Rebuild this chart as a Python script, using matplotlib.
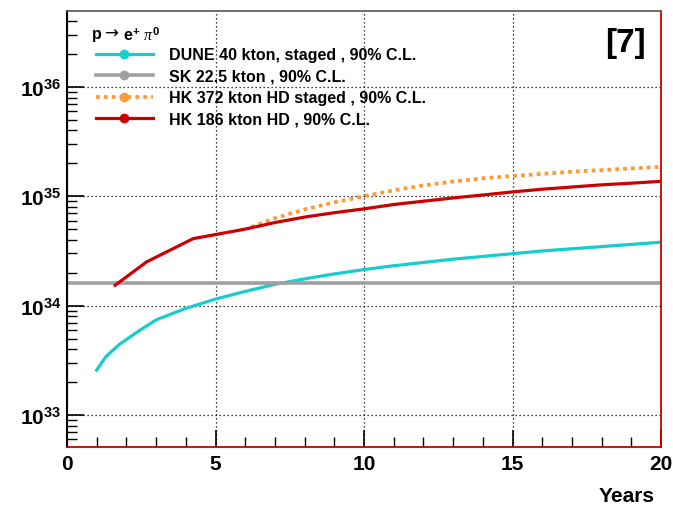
import numpy as np
import matplotlib.pyplot as plt
from matplotlib.lines import Line2D
from matplotlib.ticker import LogLocator, MultipleLocator, NullFormatter

plt.rcParams['font.family'] = ['Liberation Sans', 'DejaVu Sans']
plt.rcParams['mathtext.fontset'] = 'custom'
plt.rcParams['mathtext.rm'] = 'Liberation Sans:bold'
plt.rcParams['mathtext.bf'] = 'Liberation Sans:bold'
plt.rcParams['mathtext.it'] = 'Liberation Serif:italic'

# Data (log10 of lifetime limit, years)
dune_years = [1, 1.3, 1.76, 2, 2.4, 3, 4, 5, 6, 7, 8, 9, 10, 11, 12, 13, 14, 15, 16, 17, 18, 19, 20]
dune_log = [33.41, 33.53, 33.645, 33.69, 33.765, 33.87, 33.975, 34.06, 34.13, 34.195, 34.245,
            34.29, 34.33, 34.365, 34.395, 34.425, 34.45, 34.475, 34.50, 34.52, 34.54, 34.56, 34.58]

sk_years = [0, 20]
sk_log = [34.204, 34.204]

hk372_years = [6.2, 7, 8, 9, 10, 11, 12, 13, 14, 15, 16, 17, 18, 19, 20]
hk372_log = [34.72, 34.80, 34.88, 34.945, 35.0, 35.055, 35.10, 35.135, 35.165, 35.185,
             35.205, 35.225, 35.24, 35.255, 35.27]

hk186_years = [1.62, 2.68, 4.25, 5, 6, 7, 8, 9, 10, 11, 12, 13, 14, 15, 16, 17, 18, 19, 20]
hk186_log = [34.186, 34.40, 34.613, 34.65, 34.70, 34.76, 34.81, 34.85, 34.885, 34.925,
             34.955, 34.985, 35.012, 35.04, 35.065, 35.085, 35.105, 35.12, 35.137]

labels = ['DUNE 40 kton, staged , 90% C.L.', 'SK 22.5 kton , 90% C.L.',
          'HK 372 kton HD staged , 90% C.L.', 'HK 186 kton HD , 90% C.L.']
colors = ['#17cccc', '#a0a0a0', '#ff9933', '#cc0000']

fig = plt.figure(figsize=(6.73, 5.06), dpi=100)
ax = fig.add_axes([67 / 673, 1 - 448 / 506, 594 / 673, 436 / 506])

lw = 2.3
dots = (0, (1, 1.1))
ax.plot(dune_years, 10 ** np.array(dune_log), color=colors[0], lw=lw)
ax.plot(sk_years, 10 ** np.array(sk_log), color=colors[1], lw=lw + 0.3)
ax.plot(hk372_years, 10 ** np.array(hk372_log), color=colors[2], lw=lw + 0.4, ls=dots)
ax.plot(hk186_years, 10 ** np.array(hk186_log), color=colors[3], lw=lw)

ax.set_yscale('log')
ax.set_xlim(0, 20)
ax.set_ylim(10 ** 32.707, 10 ** 36.695)

ax.xaxis.set_major_locator(MultipleLocator(5))
ax.xaxis.set_minor_locator(MultipleLocator(1))
ax.yaxis.set_major_locator(LogLocator(base=10, numticks=10))
ax.yaxis.set_minor_locator(LogLocator(base=10, subs=np.arange(2, 10), numticks=20))
ax.yaxis.set_minor_formatter(NullFormatter())

ax.tick_params(axis='both', which='major', direction='in', length=12, width=1.2,
               labelsize=15)
ax.tick_params(axis='both', which='minor', direction='in', length=7, width=1.0)
ax.tick_params(axis='x', top=False, pad=5)
ax.tick_params(axis='y', right=False, pad=4)
for lab in ax.get_xticklabels() + ax.get_yticklabels():
    lab.set_fontweight('bold')

ax.grid(True, which='major', color='black', ls=(0, (1, 2.2)), lw=0.9)

ax.spines['left'].set_linewidth(1.5)
ax.spines['top'].set_color('#555555')
ax.spines['top'].set_linewidth(1.2)
ax.spines['right'].set_color('#cc0000')
ax.spines['right'].set_linewidth(1.3)
ax.spines['bottom'].set_color('#cc0000')
ax.spines['bottom'].set_linewidth(1.3)

handles = [
    Line2D([], [], color=colors[0], lw=lw, marker='o', ms=6),
    Line2D([], [], color=colors[1], lw=lw + 0.3, marker='o', ms=6),
    Line2D([], [], color=colors[2], lw=lw + 0.4, ls=dots, marker='o', ms=6),
    Line2D([], [], color=colors[3], lw=lw, marker='o', ms=6),
]
leg = ax.legend(handles, labels, loc='upper left', bbox_to_anchor=(0.038, 0.931),
                frameon=False, prop={'weight': 'bold', 'size': 11.5},
                handlelength=3.55, handletextpad=1.0,
                labelspacing=0.40, borderaxespad=0.2, borderpad=0.2)

# legend header: p -> e+ pi0
hy = 1 - 35 / 506
fig.text(92 / 673, hy, 'p', ha='left', va='center', fontsize=11.5, fontweight='bold')
fig.text(104 / 673, hy + 0.002, '\u2192', ha='left', va='center', fontsize=12,
         family=['DejaVu Sans'])
fig.text(123 / 673, hy, 'e$^{+}$ $\\pi^{0}$', ha='left', va='center',
         fontsize=11.5, fontweight='bold')

ax.text(0.975, 0.963, '[7]', transform=ax.transAxes, ha='right', va='top',
        fontsize=24, fontweight='bold')
fig.text(655 / 673, 1 - 502 / 506, 'Years', ha='right', va='baseline',
         fontsize=15, fontweight='bold')

fig.savefig('out.png', dpi=100)
